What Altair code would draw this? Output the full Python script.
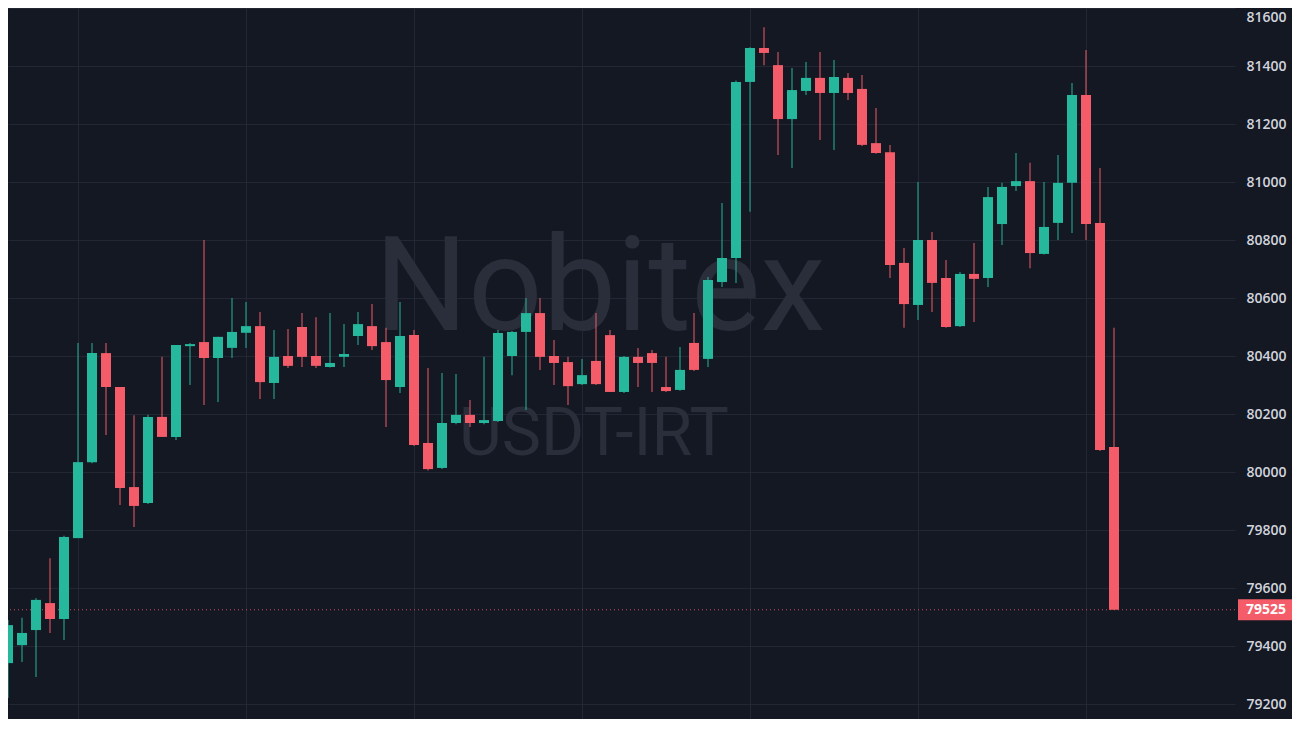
import altair as alt
import pandas as pd

# ---- data (USDT-IRT candles) ----
opens = [79341, 79403, 79455, 79548, 79493, 79772, 80034, 80410, 80293, 79948,
         79893, 80190, 80121, 80434, 80448, 80393, 80428, 80480, 80503, 80307,
         80400, 80500, 80400, 80362, 80397, 80469, 80503, 80448, 80293, 80472,
         80100, 80014, 80169, 80197, 80169, 80176, 80400, 80483, 80548, 80400,
         80379, 80303, 80383, 80472, 80276, 80397, 80410, 80293, 80283, 80445,
         80390, 80655, 80738, 81345, 81462, 81403, 81217, 81314, 81359, 81307,
         81359, 81321, 81134, 81103, 80721, 80576, 80800, 80669, 80503, 80683,
         80669, 80855, 80986, 81003, 80752, 80859, 80997, 81300, 80859, 80086]
highs = [79490, 79497, 79565, 79703, 79780, 80445, 80445, 80445, 80293, 80196,
         80197, 80397, 80438, 80445, 80800, 80466, 80600, 80586, 80552, 80490,
         80493, 80548, 80534, 80548, 80510, 80552, 80579, 80497, 80586, 80490,
         80359, 80341, 80338, 80248, 80397, 80490, 80486, 80600, 80600, 80455,
         80397, 80390, 80548, 80490, 80400, 80428, 80421, 80397, 80431, 80548,
         80672, 80928, 81350, 81465, 81534, 81448, 81393, 81414, 81448, 81421,
         81376, 81369, 81255, 81128, 80772, 81000, 80828, 80731, 80690, 80790,
         80983, 80997, 81100, 81066, 81000, 81093, 81341, 81455, 81048, 80497]
lows = [79221, 79345, 79293, 79445, 79421, 79772, 80030, 80128, 79886, 79810,
        79890, 80121, 80110, 80300, 80231, 80241, 80393, 80428, 80252, 80252,
        80359, 80362, 80359, 80360, 80362, 80438, 80421, 80155, 80272, 80090,
        80005, 80010, 80165, 80155, 80165, 80172, 80334, 80214, 80352, 80300,
        80231, 80300, 80300, 80276, 80272, 80293, 80276, 80276, 80280, 80348,
        80362, 80638, 80652, 80897, 81403, 81093, 81048, 81300, 81145, 81110,
        81283, 81124, 81097, 80669, 80497, 80524, 80552, 80497, 80500, 80517,
        80638, 80783, 80969, 80703, 80750, 80800, 80824, 80800, 80072, 79525]
closes = [79472, 79445, 79559, 79493, 79776, 80034, 80410, 80293, 79945, 79883,
          80190, 80121, 80438, 80441, 80393, 80466, 80483, 80503, 80310, 80397,
          80366, 80397, 80366, 80376, 80407, 80510, 80434, 80317, 80469, 80093,
          80010, 80169, 80197, 80169, 80179, 80479, 80483, 80548, 80397, 80376,
          80296, 80334, 80303, 80276, 80397, 80376, 80376, 80279, 80352, 80352,
          80662, 80738, 81345, 81462, 81445, 81217, 81317, 81359, 81307, 81362,
          81307, 81128, 81100, 80714, 80579, 80800, 80652, 80500, 80683, 80666,
          80948, 80983, 81003, 80755, 80845, 80997, 81300, 80855, 80076, 79525]

price_ticks = [79200, 79400, 79600, 79800, 80000, 80200, 80400, 80600, 80800, 81000, 81200, 81400, 81600]
time_grid = [5, 17, 29, 41, 53, 65, 77]
last_price = [79525]
last_label = ["79525"]
watermark_main = ["Nobitex"]
watermark_pair = ["USDT-IRT"]

# ---- layout / styling ----
W, H = 1227, 711
STEP = 14.0
BG = "#141823"
GRID = "#232734"
UP = "#26b89c"
DOWN = "#f45c69"
WM = "#2a2e3a"

df = pd.DataFrame({
    "idx": list(range(len(opens))),
    "open": opens, "high": highs, "low": lows, "close": closes,
})
df["dir"] = ["up" if c >= o else "down" for o, c in zip(opens, closes)]

ydom = [79200 - (H + 8 - 704) * (200 / 58), 81600]
yscale = alt.Scale(domain=ydom, nice=False, zero=False, padding=0)
xscale = alt.Scale(domain=[0, W / STEP], nice=False, zero=False, padding=0)
color = alt.Color("dir:N", scale=alt.Scale(domain=["up", "down"], range=[UP, DOWN]), legend=None)

yaxis = alt.Axis(orient="right", values=price_ticks, grid=True, gridColor=GRID, gridWidth=1,
                 domain=False, ticks=False, labelColor="#d1d4dc", labelFontSize=14,
                 labelFont="Open Sans", labelFontWeight=600, labelPadding=11,
                 labelAlign="left", labelFlush=True, labelFlushOffset=-2,
                 title=None, format="d")
xaxis = alt.Axis(values=time_grid, grid=True, gridColor=GRID, gridWidth=1, labels=False,
                 ticks=False, domain=False, title=None)

base = alt.Chart(df)

wicks = base.mark_rule(strokeWidth=1.4, opacity=0.7).encode(
    x=alt.X("idx:Q", scale=xscale, axis=xaxis),
    y=alt.Y("low:Q", scale=yscale, axis=yaxis),
    y2="high:Q",
    color=color,
)
bodies = base.mark_bar(size=10).encode(
    x=alt.X("idx:Q", scale=xscale),
    y=alt.Y("open:Q", scale=yscale),
    y2="close:Q",
    color=color,
)

wm1 = alt.Chart(pd.DataFrame({"t": watermark_main})).mark_text(
    font="Roboto", fontSize=131, color=WM, baseline="alphabetic", align="center"
).encode(x=alt.value(592), y=alt.value(322), text="t:N")
wm2 = alt.Chart(pd.DataFrame({"t": watermark_pair})).mark_text(
    font="Roboto", fontSize=66, color=WM, baseline="alphabetic", align="center"
).encode(x=alt.value(586), y=alt.value(447), text="t:N")

lp = pd.DataFrame({"price": last_price, "label": last_label})
dotted = alt.Chart(lp).mark_rule(strokeDash=[1, 3], strokeWidth=1, color=DOWN, opacity=0.8).encode(
    y=alt.Y("price:Q", scale=yscale)
)
box = alt.Chart(lp).mark_rule(strokeWidth=21, color=DOWN, strokeCap="butt").encode(
    x=alt.value(W + 3), x2=alt.value(W + 60), y=alt.Y("price:Q", scale=yscale)
)
box_text = alt.Chart(lp).mark_text(color="#ffffff", fontSize=14, fontWeight="bold",
                                   font="Open Sans", align="center", baseline="middle").encode(
    x=alt.value(W + 31), y=alt.Y("price:Q", scale=yscale), text="label:N"
)

chart = alt.layer(wm1, wm2, dotted, wicks, bodies, box, box_text).properties(
    width=W, height=H,
    autosize=alt.AutoSizeParams(type="none"),
    padding={"left": 0, "top": 0, "right": 57, "bottom": 0},
    background=BG,
).configure_view(stroke=None)

chart.save("out.html", embed_options={"renderer": "svg", "actions": False})
